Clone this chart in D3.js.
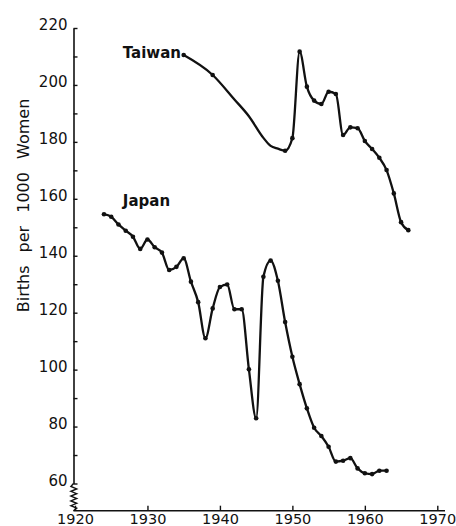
<!DOCTYPE html>
<html>
<head>
<meta charset="utf-8">
<script src="https://cdn.jsdelivr.net/npm/d3@7"></script>
<style>
  body { margin: 0; background: #fff; }
  text { font-family: "DejaVu Sans", sans-serif; fill: #111; }
</style>
</head>
<body>
<div id="chart"></div>
<script>
// values
var taiwanYears  = [1935, 1939, 1942, 1944, 1946, 1947, 1948, 1949, 1950, 1951, 1952, 1953, 1954, 1955, 1956, 1957,
                    1958, 1959, 1960, 1961, 1962, 1963, 1964, 1965, 1966];
var taiwanValues = [210.5, 203.5, 194.9, 189.0, 181.4, 178.6, 177.6, 176.9, 181.3, 211.7, 199.4, 194.5, 193.3, 197.6, 196.8, 182.4,
                    185.1, 184.8, 180.3, 177.5, 174.4, 170.1, 161.9, 151.8, 149.0];
// years that are only read from the drawn curve (no dot in the original)
var taiwanNoDot  = [1942, 1944, 1946, 1947, 1948];

var japanYears  = d3.range(1924, 1964);
var japanValues = [154.6, 153.7, 151.0, 148.8, 146.7, 142.4, 145.7, 143.0, 141.1, 135.0,
                   136.1, 139.1, 130.9, 123.7, 111.0, 121.5, 129.0, 129.9, 121.2, 121.2,
                   100.1, 82.9, 132.6, 138.3, 131.2, 116.7, 104.5, 94.9, 86.4, 79.6,
                   76.7, 72.9, 67.7, 68.0, 68.9, 65.3, 63.6, 63.3, 64.5, 64.5];

var xTicks = [1920, 1930, 1940, 1950, 1960, 1970];
var yTicks = d3.range(60, 221, 10);

var width = 456, height = 526;

var x = d3.scaleLinear().domain([1920, 1970]).range([75, 437.3]);
var y = d3.scaleLinear().domain([60, 220]).range([483.5, 28]);
var axisX = 73.5, axisY = 510.7;

var svg = d3.select("#chart").append("svg")
    .attr("width", width).attr("height", height);

// y axis, ticks pointing into the plot
var gy = svg.append("g")
    .attr("transform", "translate(" + axisX + ",0)")
    .call(d3.axisLeft(y)
        .tickValues(yTicks)
        .tickSizeInner(-4)
        .tickSizeOuter(0)
        .tickPadding(6)
        .tickFormat(function(d) { return d % 20 == 0 ? d : ""; }));
gy.select(".domain").attr("stroke", "#111").attr("stroke-width", 1.6);
gy.selectAll(".tick line").attr("stroke", "#111").attr("stroke-width", 1.4);
gy.selectAll(".tick text").attr("dy", "0.1em").style("font-size", "15px")
    .style("font-family", "DejaVu Sans").attr("fill", "#111");

// broken axis zigzag between 60 and the x axis
var zig = d3.range(0, 10).map(function(i) {
  return [axisX + (i % 2 ? 3.2 : -2.6), y(60) + 3 + i * 2.4];
});
zig.unshift([axisX, y(60)]);
zig.push([axisX, axisY]);
svg.append("path")
    .attr("d", d3.line()(zig))
    .attr("fill", "none").attr("stroke", "#111").attr("stroke-width", 1.4);

// x axis, ticks pointing up
var gx = svg.append("g")
    .attr("transform", "translate(0," + axisY + ")")
    .call(d3.axisBottom(x)
        .tickValues(xTicks)
        .tickSizeInner(-5)
        .tickSizeOuter(0)
        .tickPadding(3)
        .tickFormat(d3.format("d")));
gx.select(".domain").attr("d", "M" + axisX + ",0H445").attr("stroke", "#111").attr("stroke-width", 1.6);
gx.selectAll(".tick line").attr("stroke", "#111").attr("stroke-width", 1.4);
gx.selectAll(".tick text").attr("dy", "0.68em").style("font-size", "14.5px")
    .style("font-family", "DejaVu Sans").attr("fill", "#111");

// y axis title
svg.append("text")
    .attr("transform", "translate(28.5,205.5) rotate(-90)")
    .attr("text-anchor", "middle")
    .style("font-size", "16px")
    .style("word-spacing", "8px")
    .text("Births per 1000 Women");

var line = d3.line()
    .x(function(d) { return x(d[0]); })
    .y(function(d) { return y(d[1]); })
    .curve(d3.curveMonotoneX);

function drawSeries(years, values, noDot, name, labelYear, labelValue) {
  var pts = years.map(function(yr, i) { return [yr, values[i]]; });
  svg.append("path")
      .datum(pts)
      .attr("d", line)
      .attr("fill", "none")
      .attr("stroke", "#111")
      .attr("stroke-width", 2.3)
      .attr("stroke-linejoin", "round");
  svg.append("g").selectAll("circle")
      .data(pts.filter(function(d) { return noDot.indexOf(d[0]) < 0; }))
      .join("circle")
      .attr("cx", function(d) { return x(d[0]); })
      .attr("cy", function(d) { return y(d[1]); })
      .attr("r", 2.3)
      .attr("fill", "#111");
  svg.append("text")
      .attr("x", x(labelYear))
      .attr("y", y(labelValue))
      .style("font-size", "15px")
      .style("font-weight", "bold")
      .text(name);
}

drawSeries(taiwanYears, taiwanValues, taiwanNoDot, "Taiwan", 1926.6, 209.6);
drawSeries(japanYears, japanValues, [], "Japan", 1926.6, 157.6);
</script>
</body>
</html>
